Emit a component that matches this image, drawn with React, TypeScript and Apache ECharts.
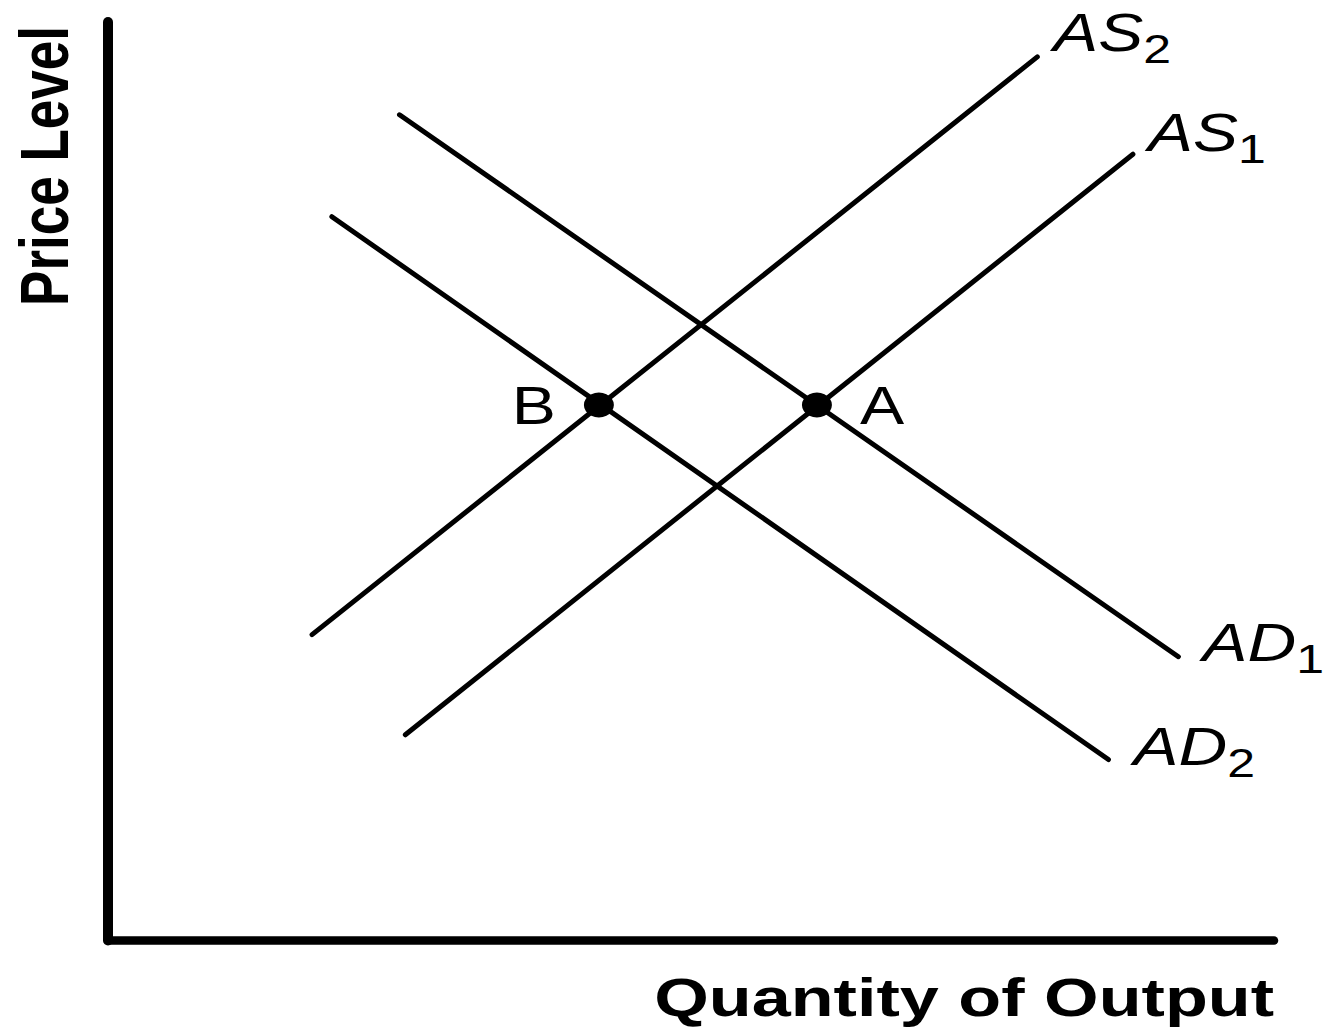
import React, { useEffect, useRef } from "react";
import * as echarts from "echarts";

// Curves (abstract units: quantity 0-100, price level 0-100)
const AS1 = [[25.5, 22.4], [87.9, 85.6]];
const AS2 = [[17.5, 33.3], [79.7, 96.2]];
const AD1 = [[25.0, 89.9], [91.8, 30.9]];
const AD2 = [[19.2, 78.8], [85.8, 19.7]];

// Equilibrium points
const EQ_POINTS = [[42.1, 58.3], [60.8, 58.3]];
const EQ_NAMES = ["B", "A"];

const X_TITLE = "Quantity of Output";
const Y_TITLE = "Price Level";

const SANS = '"Liberation Sans", Arial, Helvetica, sans-serif';
const STRETCH = 1.3;
const LABEL_STRETCH = 1.25;

export default function App() {
  const ref = useRef<HTMLDivElement>(null);

  useEffect(() => {
    const chart = echarts.init(ref.current!, null, { renderer: "svg" });

    const curve = (name: string, data: number[][]) => ({
      type: "line",
      name,
      data,
      symbol: "none",
      silent: true,
      z: 2,
      lineStyle: { color: "#000", width: 5, cap: "round" },
    });

    chart.setOption({
      animation: false,
      backgroundColor: "#fff",
      grid: { left: 108, right: 54, top: 22, bottom: 88.5 },
      xAxis: {
        type: "value",
        min: 0,
        max: 100,
        axisLine: { show: true, onZero: false, lineStyle: { color: "#000", width: 8.5 } },
        axisTick: { show: false },
        axisLabel: { show: false },
        splitLine: { show: false },
      },
      yAxis: {
        type: "value",
        min: 0,
        max: 100,
        axisLine: { show: true, onZero: false, lineStyle: { color: "#000", width: 10 } },
        axisTick: { show: false },
        axisLabel: { show: false },
        splitLine: { show: false },
      },
      series: [
        curve("AS1", AS1),
        curve("AS2", AS2),
        curve("AD1", AD1),
        curve("AD2", AD2),
        {
          type: "scatter",
          name: "Equilibrium",
          data: EQ_POINTS,
          symbol: "circle",
          symbolSize: [30, 25],
          itemStyle: { color: "#000", opacity: 1 },
          silent: true,
          z: 3,
        },
      ],
    });

    const px = (p: number[]) => chart.convertToPixel({ gridIndex: 0 }, p) as number[];

    const curveLabels = [
      { main: "AS", sub: "2", end: AS2[1], dx: 16, dy: -24.5 },
      { main: "AS", sub: "1", end: AS1[1], dx: 15, dy: -22 },
      { main: "AD", sub: "1", end: AD1[1], dx: 24, dy: -14.5 },
      { main: "AD", sub: "2", end: AD2[1], dx: 25, dy: -13 },
    ];

    const graphics: any[] = [];
    curveLabels.forEach((l) => {
      const [x, y] = px(l.end);
      graphics.push({
        type: "text",
        x: x + l.dx,
        y: y + l.dy,
        scaleX: LABEL_STRETCH,
        silent: true,
        style: {
          text: `{m|${l.main}}{s|${l.sub}}`,
          align: "left",
          verticalAlign: "middle",
          fill: "#000",
          rich: {
            m: { fontSize: 54, fontStyle: "italic", fontFamily: SANS, fill: "#000", lineHeight: 74, verticalAlign: "middle" },
            s: { fontSize: 40, fontFamily: SANS, fill: "#000", verticalAlign: "bottom" },
          },
        },
      });
    });

    EQ_POINTS.forEach((p, i) => {
      const [x, y] = px(p);
      const left = i === 0;
      graphics.push({
        type: "text",
        x: left ? x - 43 : x + 43,
        y: y + 1,
        scaleX: LABEL_STRETCH,
        silent: true,
        style: {
          text: EQ_NAMES[i],
          align: left ? "right" : "left",
          verticalAlign: "middle",
          fontSize: 53,
          fontFamily: SANS,
          fill: "#000",
        },
      });
    });

    const [gxRight, gyBottom] = px([100, 0]);
    const [, gyTop] = px([0, 100]);
    graphics.push({
      type: "text",
      x: gxRight,
      y: gyBottom + 56.5,
      scaleX: STRETCH,
      silent: true,
      style: {
        text: X_TITLE,
        align: "right",
        verticalAlign: "middle",
        fontSize: 54,
        fontWeight: "bold",
        fontFamily: SANS,
        fill: "#000",
      },
    });
    graphics.push({
      type: "text",
      x: 44,
      y: gyTop + 144,
      rotation: Math.PI / 2,
      scaleY: STRETCH,
      silent: true,
      style: {
        text: Y_TITLE,
        align: "center",
        verticalAlign: "middle",
        fontSize: 53,
        fontWeight: "bold",
        fontFamily: SANS,
        fill: "#000",
      },
    });

    chart.setOption({ graphic: graphics });

    return () => chart.dispose();
  }, []);

  return (
    <div
      ref={ref}
      style={{ position: "fixed", left: 0, top: 0, width: 1328, height: 1029, background: "#fff" }}
    />
  );
}
